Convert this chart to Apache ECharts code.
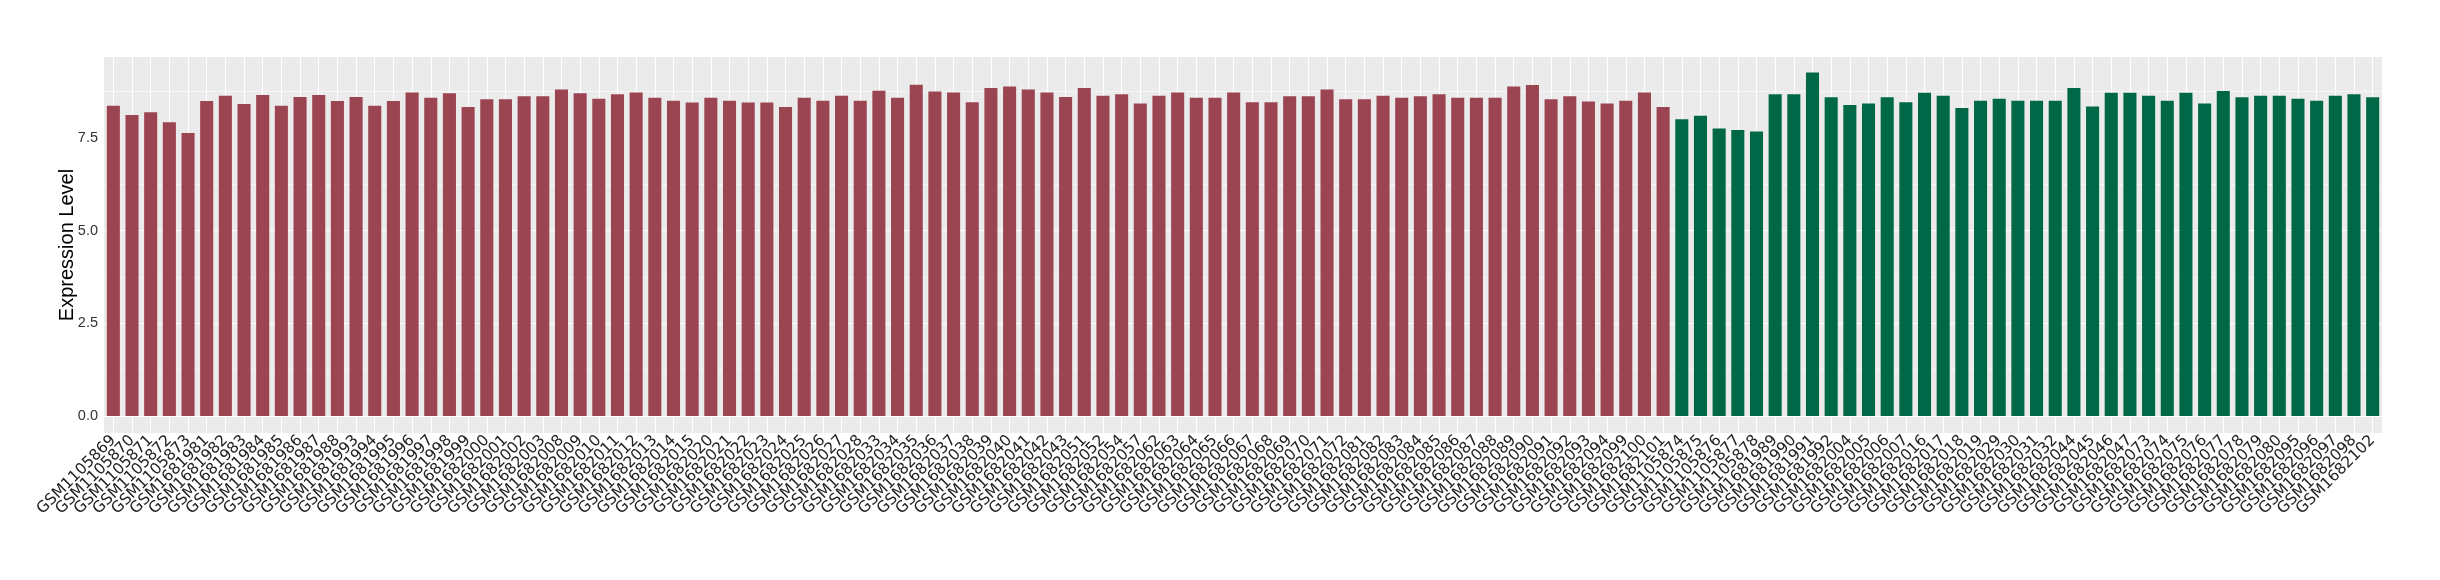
<!DOCTYPE html>
<html>
<head>
<meta charset="utf-8">
<script src="https://cdn.jsdelivr.net/npm/echarts@6/dist/echarts.min.js"></script>
<style>
html, body { margin: 0; padding: 0; background: #fff; }
#chart { width: 2440px; height: 580px; }
</style>
</head>
<body>
<div id="chart"></div>
<script>
// sample names, first group (red)
const redSamples = [
    'GSM1105869', 'GSM1105870', 'GSM1105871', 'GSM1105872', 'GSM1105873',
    'GSM1681981', 'GSM1681982', 'GSM1681983', 'GSM1681984', 'GSM1681985', 'GSM1681986', 'GSM1681987', 'GSM1681988',
    'GSM1681993', 'GSM1681994', 'GSM1681995', 'GSM1681996', 'GSM1681997', 'GSM1681998', 'GSM1681999',
    'GSM1682000', 'GSM1682001', 'GSM1682002', 'GSM1682003',
    'GSM1682008', 'GSM1682009', 'GSM1682010', 'GSM1682011', 'GSM1682012', 'GSM1682013', 'GSM1682014', 'GSM1682015',
    'GSM1682020', 'GSM1682021', 'GSM1682022', 'GSM1682023', 'GSM1682024', 'GSM1682025', 'GSM1682026', 'GSM1682027', 'GSM1682028',
    'GSM1682033', 'GSM1682034', 'GSM1682035', 'GSM1682036', 'GSM1682037', 'GSM1682038', 'GSM1682039', 'GSM1682040', 'GSM1682041', 'GSM1682042', 'GSM1682043',
    'GSM1682051', 'GSM1682052', 'GSM1682054', 'GSM1682057',
    'GSM1682062', 'GSM1682063', 'GSM1682064', 'GSM1682065', 'GSM1682066', 'GSM1682067', 'GSM1682068', 'GSM1682069', 'GSM1682070', 'GSM1682071', 'GSM1682072',
    'GSM1682081', 'GSM1682082', 'GSM1682083', 'GSM1682084', 'GSM1682085', 'GSM1682086', 'GSM1682087', 'GSM1682088', 'GSM1682089', 'GSM1682090', 'GSM1682091', 'GSM1682092', 'GSM1682093', 'GSM1682094',
    'GSM1682099', 'GSM1682100', 'GSM1682101'
];
const redValues = [
    8.36, 8.11, 8.19, 7.92, 7.63, 8.49, 8.63, 8.41, 8.65, 8.36, 8.60, 8.65, 8.49, 8.60, 8.36, 8.49,
    8.72, 8.58, 8.70, 8.33, 8.54, 8.54, 8.62, 8.62, 8.80, 8.70, 8.55, 8.67, 8.72, 8.58, 8.50, 8.45,
    8.58, 8.50, 8.45, 8.45, 8.33, 8.58, 8.50, 8.63, 8.50, 8.77, 8.58, 8.93, 8.75, 8.72, 8.46, 8.84,
    8.88, 8.80, 8.72, 8.60, 8.84, 8.63, 8.67, 8.42, 8.63, 8.72, 8.58, 8.58, 8.72, 8.46, 8.46, 8.62,
    8.62, 8.80, 8.54, 8.54, 8.63, 8.58, 8.62, 8.67, 8.58, 8.58, 8.58, 8.88, 8.92, 8.54, 8.62, 8.48,
    8.42, 8.50, 8.72, 8.33
];
// second group (green)
const greenSamples = [
    'GSM1105874', 'GSM1105875', 'GSM1105876', 'GSM1105877', 'GSM1105878',
    'GSM1681989', 'GSM1681990', 'GSM1681991', 'GSM1681992',
    'GSM1682004', 'GSM1682005', 'GSM1682006', 'GSM1682007',
    'GSM1682016', 'GSM1682017', 'GSM1682018', 'GSM1682019',
    'GSM1682029', 'GSM1682030', 'GSM1682031', 'GSM1682032',
    'GSM1682044', 'GSM1682045', 'GSM1682046', 'GSM1682047',
    'GSM1682073', 'GSM1682074', 'GSM1682075', 'GSM1682076', 'GSM1682077', 'GSM1682078', 'GSM1682079', 'GSM1682080',
    'GSM1682095', 'GSM1682096', 'GSM1682097', 'GSM1682098',
    'GSM1682102'
];
const greenValues = [
    8.00, 8.09, 7.75, 7.71, 7.67, 8.67, 8.67, 9.26, 8.59, 8.38, 8.42, 8.59, 8.46,
    8.71, 8.63, 8.30, 8.50, 8.55, 8.50, 8.50, 8.50, 8.84, 8.34, 8.71, 8.71,
    8.63, 8.50, 8.71, 8.42, 8.76, 8.59, 8.63, 8.63, 8.55, 8.50, 8.63, 8.67, 8.59
];
const yTicks = [0, 2.5, 5, 7.5];

const categories = redSamples.concat(greenSamples);
const redData = redValues.concat(greenSamples.map(() => '-'));
const greenData = redSamples.map(() => '-').concat(greenValues);

const chart = echarts.init(document.getElementById('chart'));
chart.setOption({
    animation: false,
    textStyle: { fontFamily: 'Liberation Sans, Arial, sans-serif' },
    grid: [
        // grey panel, reaches a little below zero like ggplot
        { left: 104, right: 58, top: 57, bottom: 147, show: true, backgroundColor: '#EBEBEB', borderWidth: 0 },
        // bars, zero at the real baseline
        { left: 104, right: 58, top: 45, bottom: 164 }
    ],
    xAxis: [{
        gridIndex: 0,
        type: 'category',
        data: categories,
        axisLine: { show: false },
        axisTick: { alignWithLabel: true, interval: 0, length: 4, lineStyle: { color: '#333' } },
        axisLabel: { rotate: 45, interval: 0, fontSize: 15.5, fontFamily: 'DejaVu Sans', color: '#222', margin: 5 },
        splitLine: { show: true, alignWithLabel: true, interval: 0, lineStyle: { color: '#fff', width: 1.1 } }
    }, {
        gridIndex: 1,
        type: 'category',
        data: categories,
        show: false
    }],
    yAxis: [{
        gridIndex: 0,
        type: 'value',
        min: -0.45,
        max: 9.68,
        name: 'Expression Level',
        nameLocation: 'middle',
        nameGap: 27,
        nameTextStyle: { fontSize: 20, color: '#000' },
        axisLine: { show: false },
        axisTick: { show: false },
        axisLabel: { show: false },
        splitLine: { show: false }
    }, {
        gridIndex: 1,
        type: 'value',
        min: 0,
        max: 10,
        interval: 2.5,
        axisLine: { show: false },
        axisTick: { length: 4, customValues: yTicks, lineStyle: { color: '#333' } },
        axisLabel: { customValues: yTicks, formatter: v => v.toFixed(1), fontSize: 14.5, color: '#333', margin: 6 },
        splitLine: { showMaxLine: false, lineStyle: { color: '#fff', width: 1.1 } },
        minorTick: { show: false, splitNumber: 2 },
        minorSplitLine: { show: true, lineStyle: { color: '#fff', width: 0.55 } }
    }],
    series: [{
        type: 'bar',
        xAxisIndex: 1,
        yAxisIndex: 1,
        data: redData,
        barGap: '-100%',
        barCategoryGap: '30%',
        itemStyle: { color: '#9B4552' }
    }, {
        type: 'bar',
        xAxisIndex: 1,
        yAxisIndex: 1,
        data: greenData,
        itemStyle: { color: '#006847' }
    }]
});
</script>
</body>
</html>
